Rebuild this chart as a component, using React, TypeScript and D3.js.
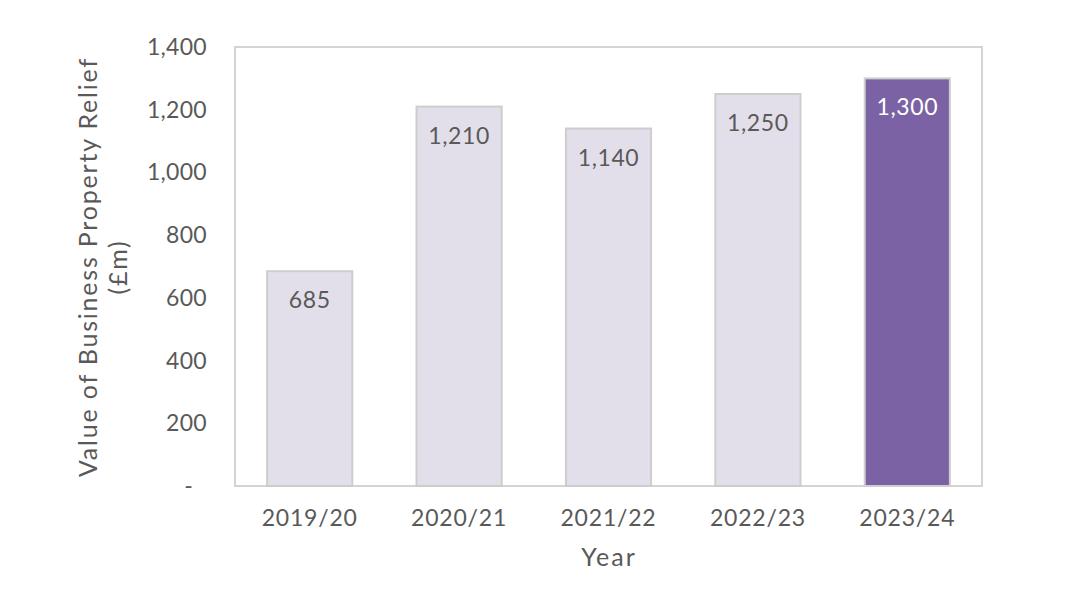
import React from "react";
import * as d3 from "d3";

const categories = ["2019/20", "2020/21", "2021/22", "2022/23", "2023/24"];
const values = [685, 1210, 1140, 1250, 1300];
const highlight = [false, false, false, false, true];
const yTicks = [0, 200, 400, 600, 800, 1000, 1200, 1400];

const W = 1080, H = 608;
const left = 235, right = 982, top = 47, bottom = 486;
const font = "Lato, 'Open Sans', sans-serif";
const txt = "#595959";

export default function App() {
  const x = d3.scaleBand<string>().domain(categories).range([left, right]).paddingInner(0.43).paddingOuter(0.215);
  const y = d3.scaleLinear().domain([0, 1400]).range([bottom, top]);
  const fmt = d3.format(",");
  return (
    <svg width={W} height={H} style={{ position: "absolute", left: 0, top: 0, background: "#fff" }}>
      <rect x={left} y={top} width={right - left} height={bottom - top} fill="#fff" stroke="#d4d4d4" strokeWidth={2} />
      {yTicks.map((t) => (
        <text key={t} x={t === 0 ? 193 : 207} y={y(t)} dy="0.35em" textAnchor="end" fontSize={23} fill={txt} fontFamily={font} letterSpacing={0.3}>
          {t === 0 ? "-" : fmt(t)}
        </text>
      ))}
      {categories.map((c, i) => (
        <g key={c}>
          <rect x={x(c)} y={y(values[i])} width={x.bandwidth()} height={bottom - y(values[i])}
            fill={highlight[i] ? "#7b62a5" : "#e3dfea"} stroke={highlight[i] ? "#cfcfcf" : "#cdcdcd"} strokeWidth={2} />
          <text x={x(c)! + x.bandwidth() / 2} y={y(values[i]) + 29} dy="0.35em" textAnchor="middle" fontSize={23}
            fill={highlight[i] ? "#ffffff" : txt} fontFamily={font} letterSpacing={0.6}>{fmt(values[i])}</text>
          <text x={x(c)! + x.bandwidth() / 2} y={518} dy="0.35em" textAnchor="middle" fontSize={23} fill={txt} fontFamily={font} letterSpacing={0.8}>{c}</text>
        </g>
      ))}
      <text x={609} y={557} dy="0.35em" textAnchor="middle" fontSize={25} fill={txt} fontFamily={font} letterSpacing={2}>Year</text>
      <g transform="translate(88,267) rotate(-90)">
        <text x={0} y={0} dy="0.35em" textAnchor="middle" fontSize={25} fill={txt} fontFamily={font} letterSpacing={1.8}>Value of Business Property Relief</text>
        <text x={0} y={30} dy="0.35em" textAnchor="middle" fontSize={25} fill={txt} fontFamily={font} letterSpacing={1.8}>(£m)</text>
      </g>
    </svg>
  );
}
